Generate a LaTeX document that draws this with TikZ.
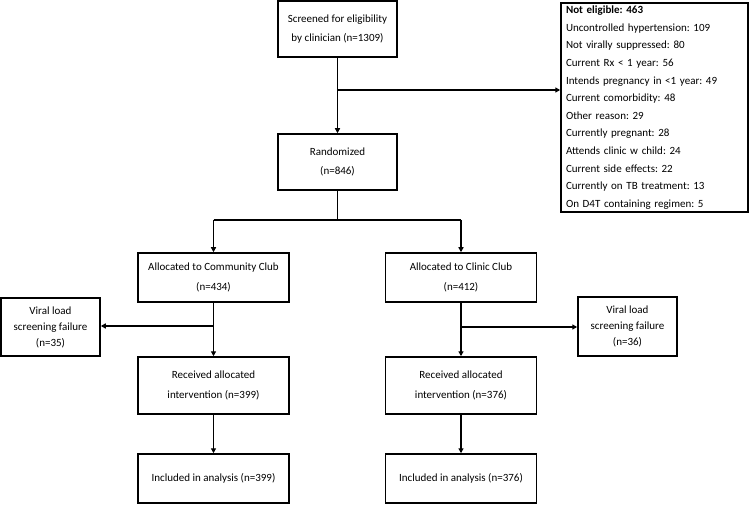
\documentclass[tikz,border=0pt]{standalone}
\usepackage{fontspec}
\setmainfont{Carlito}
\usetikzlibrary{arrows.meta}
\begin{document}
\frenchspacing
\begin{tikzpicture}[x=1pt,y=-1pt,
  box/.style={draw, line width=1.5pt, align=center, inner sep=0pt,
    font=\fontsize{11}{19.5}\selectfont\frenchspacing},
  conn/.style={line width=1.5pt},
  arr/.style={line width=1.5pt, -{Triangle[length=5pt,width=5pt]}}]
\useasboundingbox (0,0) rectangle (750,505);
\fill[white] (0,0) rectangle (750,505);
\node[box, minimum width=119pt, minimum height=56pt] (scr) at (337.5,29) {Screened for eligibility\\by clinician (n=1309)};
\node[box, minimum width=119pt, minimum height=56pt] (rnd) at (337.5,162) {Randomized\\(n=846)};
\node[box, minimum width=187pt, minimum height=209pt, align=left, text width=177pt,
  font=\fontsize{11}{17.6}\selectfont\frenchspacing] (ne) at (654.5,107.5)
 {\textbf{Not eligible: 463}\\Uncontrolled hypertension: 109\\Not virally suppressed: 80\\Current Rx {\char`\<} 1 year: 56\\Intends pregnancy in {\char`\<}1 year: 49\\Current comorbidity: 48\\Other reason: 29\\Currently pregnant: 28\\Attends clinic w child: 24\\Current side effects: 22\\Currently on TB treatment: 13\\On D4T containing regimen: 5};
\node[box, minimum width=151pt, minimum height=49pt] (acom) at (213.5,277.5) {Allocated to Community Club\\(n=434)};
\node[box, minimum width=151pt, minimum height=49pt] (acli) at (461,277.5) {Allocated to Clinic Club\\(n=412)};
\node[box, minimum width=99pt, minimum height=58pt, font=\fontsize{11}{16}\selectfont] (vl) at (50.5,327) {Viral load\\screening failure\\(n=35)};
\node[box, minimum width=99pt, minimum height=59pt, font=\fontsize{11}{16}\selectfont] (vr) at (627.5,326.5) {Viral load\\screening failure\\(n=36)};
\node[box, minimum width=151pt, minimum height=57pt] (rl) at (213.5,385.5) {Received allocated\\intervention (n=399)};
\node[box, minimum width=151pt, minimum height=57pt] (rr) at (461,385.5) {Received allocated\\intervention (n=376)};
\node[box, minimum width=151pt, minimum height=49pt] (il) at (213.5,478.5) {Included in analysis (n=399)};
\node[box, minimum width=151pt, minimum height=49pt] (ir) at (461,478.5) {Included in analysis (n=376)};
\coordinate (j1) at (337.5,90);
\coordinate (j2) at (337.5,220);
\coordinate (j2l) at (213.5,220);
\coordinate (j2r) at (461,220);
\coordinate (j3) at (213.5,326);
\coordinate (j4) at (461,327);
\draw[arr] (scr.south) -- (rnd.north);
\draw[arr] (j1) -- (j1 -| ne.west);
\draw[conn] (rnd.south) -- (j2);
\draw[conn] (j2l) -- (j2r);
\draw[arr] (j2l) -- (acom.north);
\draw[arr] (j2r) -- (acli.north);
\draw[arr] (acom.south) -- (rl.north);
\draw[arr] (j3) -- (j3 -| vl.east);
\draw[arr] (acli.south) -- (rr.north);
\draw[arr] (j4) -- (j4 -| vr.west);
\draw[arr] (rl.south) -- (il.north);
\draw[arr] (rr.south) -- (ir.north);
\end{tikzpicture}
\end{document}
